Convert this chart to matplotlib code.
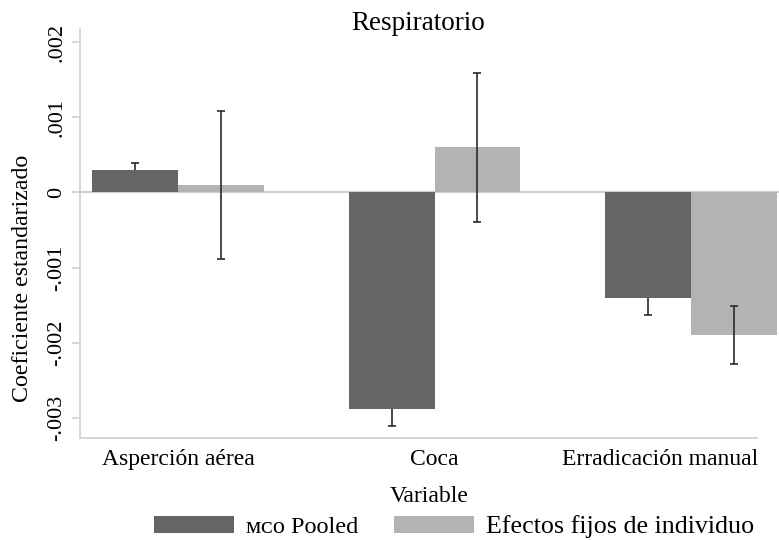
import numpy as np
import matplotlib
matplotlib.use("Agg")
from matplotlib import pyplot as plt
from matplotlib.transforms import ScaledTranslation

plt.rcParams['font.family'] = ['Liberation Serif', 'DejaVu Serif']

variables = ["Asperción aérea", "Coca", "Erradicación manual"]
mco_coef = [0.00030, -0.00289, -0.00140]
mco_err = [0.00009, 0.00022, 0.00023]
fe_coef = [0.00010, 0.00060, -0.00190]
fe_err = [0.00098, 0.00099, 0.00039]
yticks = [0.002, 0.001, 0, -0.001, -0.002, -0.003]
ytick_labels = [".002", ".001", "0", "-.001", "-.002", "-.003"]

W, H = 779, 540
fig = plt.figure(figsize=(W / 100, H / 100), dpi=100)
ax = fig.add_axes([80 / W, 1 - 438 / H, 1 - 80 / W, (438 - 29) / H])

x = np.arange(len(variables))
w = 0.335
dark = "#666666"
light = "#b3b3b3"
grey = "#cfcfcf"

ax.axhline(0, color=grey, lw=1.6, zorder=1)
# dark bars sit on top of their error bars, light bars below theirs
ax.bar(x - w / 2, mco_coef, w, color=dark, zorder=4, label="\u1d0d\u1d04\u1d0f Pooled")
ax.bar(x + w / 2, fe_coef, w, color=light, zorder=2, label="Efectos fijos de individuo")
ax.errorbar(x - w / 2, mco_coef, yerr=mco_err, fmt="none", ecolor="#2a2a2a",
            elinewidth=1.2, capsize=2.8, capthick=1.2, zorder=3)
ax.errorbar(x + w / 2, fe_coef, yerr=fe_err, fmt="none", ecolor="#2a2a2a",
            elinewidth=1.2, capsize=2.8, capthick=1.2, zorder=3)

ax.set_xlim(-0.382, 2.343)
ax.set_ylim(-0.00327, 0.002177)

for s in ["top", "right"]:
    ax.spines[s].set_visible(False)
ax.spines["left"].set_color(grey)
ax.spines["bottom"].set_color(grey)
ax.spines["left"].set_linewidth(1.2)
ax.spines["bottom"].set_linewidth(1.2)
ax.spines["bottom"].set_bounds(-0.382, 2.257)

ax.set_yticks(yticks)
ax.set_yticklabels(ytick_labels, rotation=90, va="center", fontsize=16)
ax.tick_params(axis="y", length=6, width=1.2, color=grey, pad=4)
ax.set_xticks(x)
ax.set_xticklabels(variables, fontsize=17)
ax.tick_params(axis="x", length=0, pad=8)
last = ax.get_xticklabels()[2]
last.set_ha("right")
last.set_transform(last.get_transform() + ScaledTranslation(67 / 100, 0, fig.dpi_scale_trans))

ax.set_ylabel("Coeficiente estandarizado", fontsize=17.2)
ax.yaxis.set_label_coords(-0.067, 0.391)
fig.text(418 / W, 1 - 24 / H, "Respiratorio", ha="center", va="center", fontsize=19.5)
fig.text(429 / W, 1 - 496 / H, "Variable", ha="center", va="center", fontsize=17)

leg = fig.legend(loc="center left", bbox_to_anchor=(154 / W, 1 - 527 / H), ncol=2,
                 frameon=False, fontsize=18.7, borderpad=0, handlelength=3.08,
                 handleheight=0.66, handletextpad=0.47, columnspacing=1.38,
                 borderaxespad=0)
leg.get_texts()[0].set_fontsize(17.5)

fig.savefig("out.png", dpi=100)
